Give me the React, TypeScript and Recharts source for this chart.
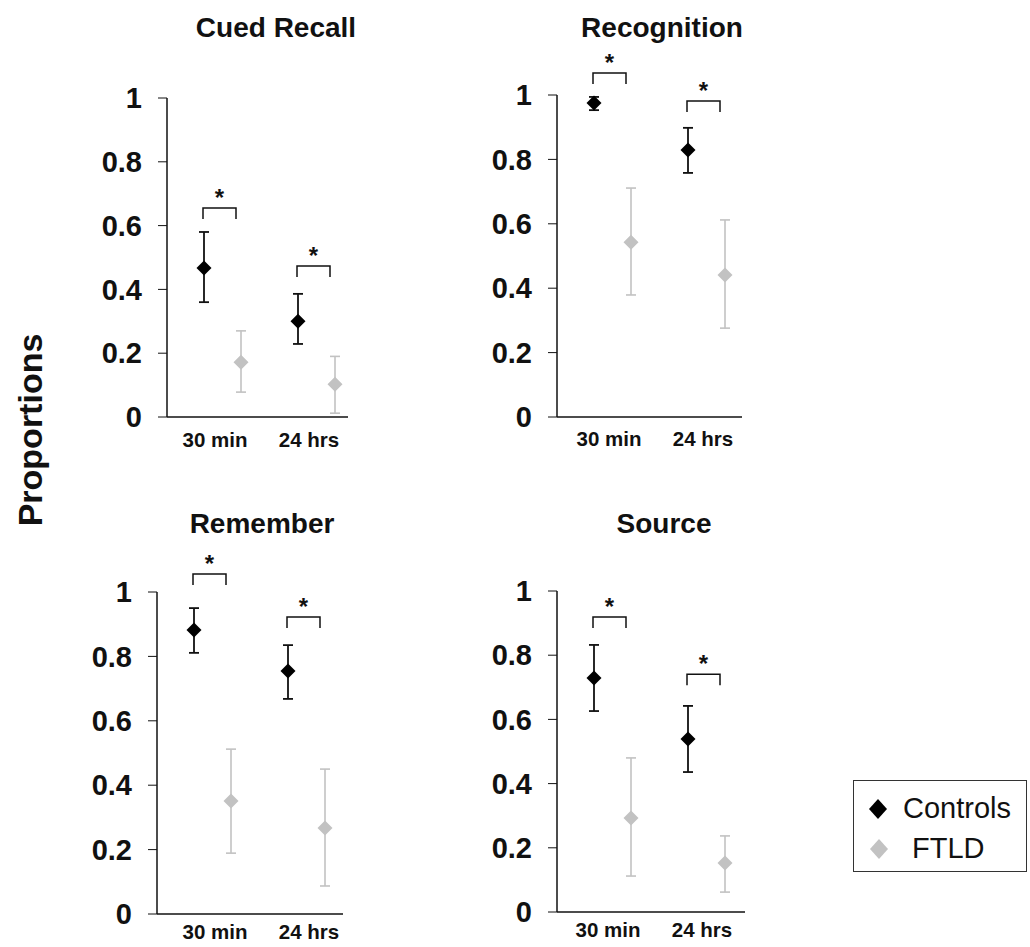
import React from 'react';
import { ScatterChart, Scatter, XAxis, YAxis, ErrorBar, ReferenceDot } from 'recharts';

const times = ['30 min', '24 hrs'];
const yTicks = [0, 0.2, 0.4, 0.6, 0.8, 1];

// Cued Recall
const cuedControls = [0.467, 0.3];
const cuedControlsRange = [[0.36, 0.58], [0.229, 0.386]];
const cuedFtld = [0.172, 0.103];
const cuedFtldRange = [[0.078, 0.27], [0.012, 0.19]];
const cuedSig = [0.655, 0.473];

// Recognition
const recogControls = [0.975, 0.829];
const recogControlsRange = [[0.953, 0.994], [0.758, 0.898]];
const recogFtld = [0.543, 0.441];
const recogFtldRange = [[0.379, 0.711], [0.276, 0.612]];
const recogSig = [1.068, 0.981];

// Remember
const rememberControls = [0.882, 0.755];
const rememberControlsRange = [[0.811, 0.95], [0.668, 0.835]];
const rememberFtld = [0.351, 0.267];
const rememberFtldRange = [[0.189, 0.512], [0.087, 0.45]];
const rememberSig = [1.056, 0.922];

// Source
const sourceControls = [0.729, 0.539];
const sourceControlsRange = [[0.626, 0.832], [0.436, 0.642]];
const sourceFtld = [0.293, 0.153];
const sourceFtldRange = [[0.112, 0.48], [0.062, 0.237]];
const sourceSig = [0.919, 0.741];

const FONT = '"Liberation Sans", Arial, Helvetica, sans-serif';
const INK = '#111';
const GREY = '#c2c2c2';

function toRows(means: number[], ranges: number[][]) {
  return times.map((time, i) => ({
    time,
    v: means[i],
    err: [means[i] - ranges[i][0], ranges[i][1] - means[i]],
  }));
}

const diamond = (fill: string, r: number) => (props: any) => {
  const { cx, cy } = props;
  if (cx == null || cy == null) return null;
  return <polygon points={`${cx},${cy - r} ${cx + r},${cy} ${cx},${cy + r} ${cx - r},${cy}`} fill={fill} />;
};

const Bracket = (props: any) => {
  const { cx, cy } = props;
  if (cx == null || cy == null) return null;
  return (
    <g>
      <path d={`M${cx - 1},${cy + 11} V${cy} H${cx + 32} V${cy + 11}`} fill="none" stroke={INK} strokeWidth={1.5} />
      <text x={cx + 15.5} y={cy - 2} textAnchor="middle" fontSize={24} fontWeight="bold" fill={INK} fontFamily={FONT}>
        *
      </text>
    </g>
  );
};

interface PanelProps {
  title: string;
  controls: number[];
  controlsRange: number[][];
  ftld: number[];
  ftldRange: number[][];
  sig: number[];
  axisX: number;
  top: number;
  plotW: number;
  plotH: number;
  titleX: number;
  titleY: number;
  labelDx: number;
  labelGap: number;
}

function Panel({ title, controls, controlsRange, ftld, ftldRange, sig, axisX, top, plotW, plotH, titleX, titleY, labelDx, labelGap }: PanelProps) {
  const yw = 80;
  const mt = 60;
  const mr = 20;
  const xh = 50;
  const width = yw + plotW + mr;
  const height = mt + plotH + xh;

  const TimeTick = ({ x, y, payload }: any) => (
    <text x={x + labelDx} y={y} dy="0.71em" textAnchor="middle" fontSize={20.5} fontWeight="bold" fill={INK} fontFamily={FONT}>
      {payload.value}
    </text>
  );

  return (
    <>
      <div
        style={{
          position: 'absolute',
          left: titleX,
          top: titleY,
          transform: 'translate(-50%, -50%)',
          fontFamily: FONT,
          fontWeight: 'bold',
          fontSize: 28,
          lineHeight: 1,
          whiteSpace: 'nowrap',
          color: INK,
        }}
      >
        {title}
      </div>
      <div style={{ position: 'absolute', left: axisX - yw, top: top - mt }}>
        <ScatterChart width={width} height={height} margin={{ top: mt, right: mr, bottom: 0, left: 0 }}>
          <XAxis
            xAxisId="c"
            dataKey="time"
            type="category"
            scale="point"
            allowDuplicatedCategory={false}
            padding={{ left: 37, right: plotW - 131 }}
            height={xh}
            tickLine={false}
            tickSize={0}
            tickMargin={labelGap}
            axisLine={{ stroke: INK, strokeWidth: 1.5 }}
            tick={<TimeTick />}
          />
          <XAxis
            xAxisId="f"
            dataKey="time"
            type="category"
            scale="point"
            allowDuplicatedCategory={false}
            padding={{ left: 74, right: plotW - 168 }}
            hide
          />
          <YAxis
            dataKey="v"
            type="number"
            domain={[0, 1]}
            ticks={yTicks}
            width={yw}
            tickSize={9}
            tickMargin={16}
            stroke={INK}
            axisLine={{ stroke: INK, strokeWidth: 1.5 }}
            tickLine={{ stroke: INK, strokeWidth: 1 }}
            tick={{ fontSize: 29, fontWeight: 'bold', fill: INK, fontFamily: FONT }}
          />
          <Scatter
            name="FTLD"
            data={toRows(ftld, ftldRange)}
            xAxisId="f"
            shape={diamond(GREY, 7.5)}
            isAnimationActive={false}
          >
            <ErrorBar dataKey="err" direction="y" width={5} stroke={GREY} strokeWidth={1.6} />
          </Scatter>
          <Scatter
            name="Controls"
            data={toRows(controls, controlsRange)}
            xAxisId="c"
            shape={diamond('#000', 7.5)}
            isAnimationActive={false}
          >
            <ErrorBar dataKey="err" direction="y" width={5} stroke={INK} strokeWidth={1.8} />
          </Scatter>
          {times.map((t, i) => (
            <ReferenceDot key={t} x={t} y={sig[i]} xAxisId="c" ifOverflow="visible" shape={Bracket} />
          ))}
        </ScatterChart>
      </div>
    </>
  );
}

const LegendDiamond = ({ fill }: { fill: string }) => (
  <svg width={20} height={22} style={{ display: 'block' }}>
    <polygon points="10,1 19,11 10,21 1,11" fill={fill} />
  </svg>
);

export default function App() {
  return (
    <div style={{ position: 'absolute', left: 0, top: 0, width: 1030, height: 947, background: '#fff', overflow: 'hidden' }}>
      <div
        style={{
          position: 'absolute',
          left: 30,
          top: 430,
          transform: 'translate(-50%, -50%) rotate(-90deg)',
          fontFamily: FONT,
          fontWeight: 'bold',
          fontSize: 34,
          lineHeight: 1,
          whiteSpace: 'nowrap',
          color: INK,
        }}
      >
        Proportions
      </div>

      <Panel
        title="Cued Recall"
        controls={cuedControls}
        controlsRange={cuedControlsRange}
        ftld={cuedFtld}
        ftldRange={cuedFtldRange}
        sig={cuedSig}
        axisX={167}
        top={98}
        plotW={181}
        plotH={319}
        titleX={276}
        titleY={28}
        labelDx={11}
        labelGap={15}
      />
      <Panel
        title="Recognition"
        controls={recogControls}
        controlsRange={recogControlsRange}
        ftld={recogFtld}
        ftldRange={recogFtldRange}
        sig={recogSig}
        axisX={557}
        top={95}
        plotW={185}
        plotH={322}
        titleX={662}
        titleY={28}
        labelDx={15}
        labelGap={14}
      />
      <Panel
        title="Remember"
        controls={rememberControls}
        controlsRange={rememberControlsRange}
        ftld={rememberFtld}
        ftldRange={rememberFtldRange}
        sig={rememberSig}
        axisX={157}
        top={592}
        plotW={186}
        plotH={322}
        titleX={262}
        titleY={524}
        labelDx={21}
        labelGap={10}
      />
      <Panel
        title="Source"
        controls={sourceControls}
        controlsRange={sourceControlsRange}
        ftld={sourceFtld}
        ftldRange={sourceFtldRange}
        sig={sourceSig}
        axisX={557}
        top={591}
        plotW={188}
        plotH={321}
        titleX={664}
        titleY={524}
        labelDx={14}
        labelGap={10}
      />

      <div
        style={{
          position: 'absolute',
          left: 853,
          top: 780,
          width: 174,
          height: 92,
          border: '1px solid #333',
          boxSizing: 'border-box',
          fontFamily: FONT,
          fontSize: 29,
          color: INK,
        }}
      >
        <div style={{ position: 'absolute', left: 14, top: 17 }}>
          <LegendDiamond fill="#000" />
        </div>
        <div style={{ position: 'absolute', left: 49, top: 27, transform: 'translateY(-50%)', lineHeight: 1 }}>Controls</div>
        <div style={{ position: 'absolute', left: 15, top: 57 }}>
          <LegendDiamond fill={GREY} />
        </div>
        <div style={{ position: 'absolute', left: 58, top: 67, transform: 'translateY(-50%)', lineHeight: 1 }}>FTLD</div>
      </div>
    </div>
  );
}
